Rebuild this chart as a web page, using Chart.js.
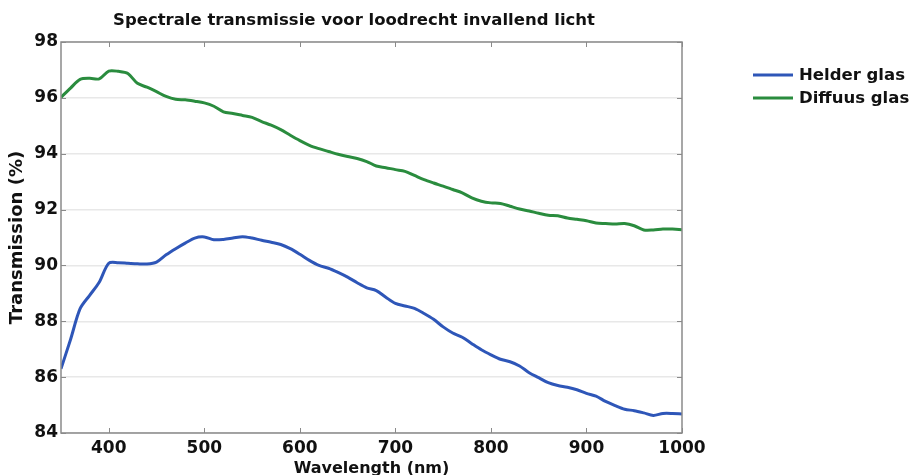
<!DOCTYPE html>
<html>
<head>
<meta charset="utf-8">
<script src="https://cdn.jsdelivr.net/npm/chart.js@4"></script>
<style>
  html, body { margin: 0; padding: 0; background: #fff; }
  #wrap { width: 917px; height: 475px; }
</style>
</head>
<body>
<div id="wrap"><canvas id="transmissieChart"></canvas></div>
<script>
// Golflengte (nm), stap 10 nm
const golflengte = [
  350, 360, 370, 380, 390, 400, 410, 420, 430, 440,
  450, 460, 470, 480, 490, 500, 510, 520, 530, 540,
  550, 560, 570, 580, 590, 600, 610, 620, 630, 640,
  650, 660, 670, 680, 690, 700, 710, 720, 730, 740,
  750, 760, 770, 780, 790, 800, 810, 820, 830, 840,
  850, 860, 870, 880, 890, 900, 910, 920, 930, 940,
  950, 960, 970, 980, 990, 1000
];

const helderGlas = [
  86.30, 87.35, 88.45, 88.93, 89.40, 90.08, 90.10, 90.08, 90.06, 90.05,
  90.12, 90.38, 90.60, 90.80, 90.98, 91.02, 90.92, 90.93, 90.98, 91.03,
  90.98, 90.90, 90.83, 90.75, 90.60, 90.40, 90.18, 90.00, 89.90, 89.75,
  89.58, 89.38, 89.20, 89.10, 88.86, 88.64, 88.55, 88.46, 88.28, 88.07,
  87.80, 87.58, 87.43, 87.20, 86.98, 86.80, 86.64, 86.55, 86.40, 86.16,
  85.98, 85.80, 85.70, 85.64, 85.55, 85.42, 85.32, 85.13, 84.98, 84.85,
  84.80, 84.72, 84.63, 84.70, 84.70, 84.68
];

const diffuusGlas = [
  96.02, 96.35, 96.66, 96.70, 96.68, 96.96, 96.95, 96.87, 96.52, 96.38,
  96.22, 96.05, 95.95, 95.93, 95.88, 95.82, 95.70, 95.50, 95.44, 95.37,
  95.30, 95.15, 95.02, 94.86, 94.66, 94.47, 94.30, 94.18, 94.08, 93.98,
  93.90, 93.83, 93.72, 93.56, 93.50, 93.43, 93.37, 93.22, 93.07, 92.95,
  92.84, 92.72, 92.60, 92.42, 92.30, 92.24, 92.22, 92.12, 92.02, 91.95,
  91.87, 91.80, 91.78, 91.70, 91.65, 91.60, 91.52, 91.50, 91.48, 91.50,
  91.42, 91.27, 91.27, 91.30, 91.30, 91.28
];

const xTicks = [400, 500, 600, 700, 800, 900, 1000];
const yTicks = [84, 86, 88, 90, 92, 94, 96, 98];

const lettertype = 'DejaVu Sans';

function punten(waarden) {
  return golflengte.map((x, i) => ({ x: x, y: waarden[i] }));
}

// Titel, kader met binnenste tickstreepjes en legenda rechts
const opmaakPlugin = {
  id: 'opmaak',
  afterDraw(chart) {
    const ctx = chart.ctx;
    const a = chart.chartArea;
    const sx = chart.scales.x;
    const sy = chart.scales.y;
    ctx.save();

    // kader
    ctx.strokeStyle = '#8a8a8a';
    ctx.lineWidth = 1.5;
    ctx.strokeRect(a.left, a.top, a.right - a.left, a.bottom - a.top);

    // tickstreepjes naar binnen
    ctx.lineWidth = 1;
    ctx.beginPath();
    xTicks.forEach(v => {
      const px = Math.round(sx.getPixelForValue(v)) + 0.5;
      ctx.moveTo(px, a.bottom); ctx.lineTo(px, a.bottom - 5);
      ctx.moveTo(px, a.top); ctx.lineTo(px, a.top + 5);
    });
    yTicks.forEach(v => {
      const py = Math.round(sy.getPixelForValue(v)) + 0.5;
      ctx.moveTo(a.left, py); ctx.lineTo(a.left + 5, py);
      ctx.moveTo(a.right, py); ctx.lineTo(a.right - 5, py);
    });
    ctx.stroke();

    // titel
    ctx.fillStyle = '#111';
    ctx.font = 'bold 16.5px "' + lettertype + '"';
    ctx.textAlign = 'center';
    ctx.textBaseline = 'middle';
    ctx.fillText('Spectrale transmissie voor loodrecht invallend licht', 354, 21);

    // legenda
    ctx.font = 'bold 16.5px "' + lettertype + '"';
    ctx.textAlign = 'left';
    chart.data.datasets.forEach((ds, i) => {
      const y = 75 + i * 23;
      ctx.strokeStyle = ds.borderColor;
      ctx.lineWidth = 3;
      ctx.beginPath();
      ctx.moveTo(753, y); ctx.lineTo(793, y);
      ctx.stroke();
      ctx.fillStyle = '#111';
      ctx.fillText(ds.label, 799, y + 1);
    });
    ctx.restore();
  }
};

document.addEventListener('DOMContentLoaded', function () {
  const ctx = document.getElementById('transmissieChart').getContext('2d');

  const data = {
    datasets: [{
      label: 'Helder glas',
      data: punten(helderGlas),
      borderColor: 'rgb(46, 86, 184)',
      borderWidth: 3,
      pointRadius: 0,
      tension: 0.3
    },
    {
      label: 'Diffuus glas',
      data: punten(diffuusGlas),
      borderColor: 'rgb(42, 140, 62)',
      borderWidth: 3,
      pointRadius: 0,
      tension: 0.3
    }]
  };

  const config = {
    type: 'line',
    data: data,
    options: {
      responsive: true,
      maintainAspectRatio: false,
      animation: false,
      layout: {
        padding: { top: 42, right: 235, bottom: 0, left: 0 }
      },
      plugins: {
        legend: { display: false },
        title: { display: false },
        tooltip: { enabled: false }
      },
      scales: {
        x: {
          type: 'linear',
          min: 350,
          max: 1000,
          afterBuildTicks: s => { s.ticks = xTicks.map(v => ({ value: v })); },
          afterFit: s => { s.height = 42; },
          grid: { display: false, drawTicks: false },
          border: { display: false },
          ticks: {
            color: '#111',
            padding: 5,
            callback: v => String(v),
            font: { family: lettertype, size: 17, weight: 'bold' }
          },
          title: {
            display: true,
            text: 'Wavelength (nm)',
            color: '#111',
            padding: { top: 3, bottom: -3 },
            font: { family: lettertype, size: 16, weight: 'bold' }
          }
        },
        y: {
          min: 84,
          max: 98,
          afterBuildTicks: s => { s.ticks = yTicks.map(v => ({ value: v })); },
          afterFit: s => { s.width = 61; },
          grid: { color: '#e8e8e8', lineWidth: 1.5, drawTicks: false },
          border: { display: false },
          ticks: {
            color: '#111',
            padding: 3,
            callback: v => String(v),
            font: { family: lettertype, size: 17, weight: 'bold' }
          },
          title: {
            display: true,
            text: 'Transmission (%)',
            color: '#111',
            padding: { top: 7, bottom: 0 },
            font: { family: lettertype, size: 18, weight: 'bold' }
          }
        }
      }
    },
    plugins: [opmaakPlugin]
  };

  new Chart(ctx, config);
});
</script>
</body>
</html>
